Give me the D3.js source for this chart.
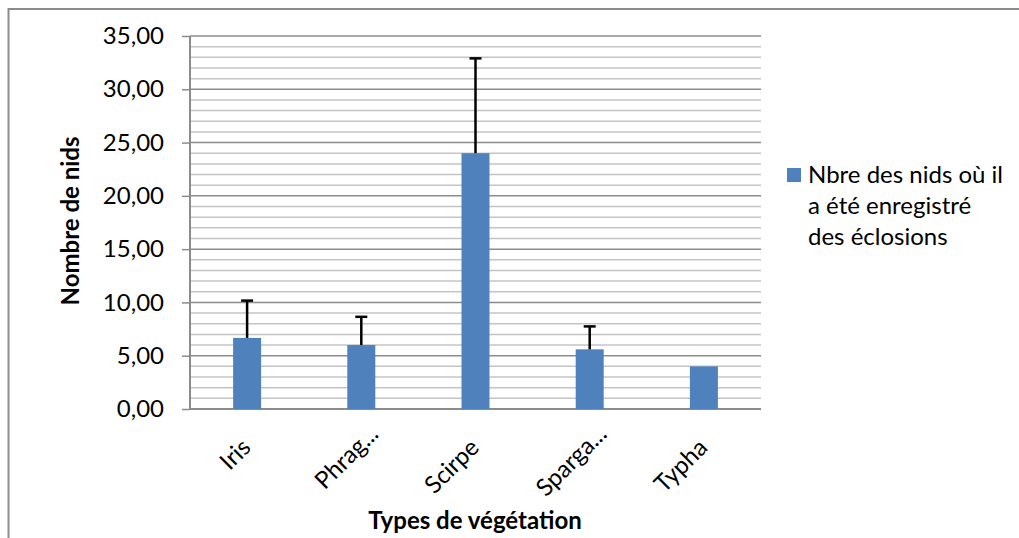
<!DOCTYPE html>
<html>
<head>
<meta charset="utf-8">
<script src="https://cdn.jsdelivr.net/npm/d3@7"></script>
<style>
  body { margin: 0; background: #fff; }
  text { font-family: Lato, "Open Sans", sans-serif; }
</style>
</head>
<body>
<div id="chart"></div>
<script>
const categories = ["Iris", "Phrag...", "Scirpe", "Sparga...", "Typha"];
const values = [6.67, 6.0, 24.0, 5.6, 4.0];
const errors = [3.5, 2.65, 8.9, 2.15, 0];
const yTicks = [0, 5, 10, 15, 20, 25, 30, 35];
const seriesName = ["Nbre des nids où il", "a été enregistré", "des éclosions"];

const width = 1019, height = 538;
const margin = ({ top: 36, right: 258, bottom: 129, left: 190 });
const fs = 24;

const svg = d3.select("#chart")
  .append("svg")
  .attr("width", width)
  .attr("height", height);

// outer chart frame (runs off the page on the right and bottom)
svg.append("rect")
  .attr("x", 8.5).attr("y", 9)
  .attr("width", 1100).attr("height", 600)
  .attr("fill", "none")
  .attr("stroke", "#8c8c8c")
  .attr("stroke-width", 2);

let x = d3.scaleBand()
  .domain(categories)
  .range([margin.left, width - margin.right]);

let y = d3.scaleLinear()
  .domain([0, 35])
  .range([height - margin.bottom, margin.top]);

// minor gridlines
svg.append("g")
  .selectAll("line")
  .data(d3.range(1, 35).filter(d => d % 5 !== 0))
  .join("line")
  .attr("x1", margin.left).attr("x2", width - margin.right)
  .attr("y1", d => y(d)).attr("y2", d => y(d))
  .attr("stroke", "#c4c4c4")
  .attr("stroke-width", 1.5);

// major gridlines
svg.append("g")
  .selectAll("line")
  .data(yTicks.slice(1))
  .join("line")
  .attr("x1", margin.left).attr("x2", width - margin.right)
  .attr("y1", d => y(d)).attr("y2", d => y(d))
  .attr("stroke", "#8c8c8c")
  .attr("stroke-width", 1.5);

// y axis
svg.append("g")
  .attr("transform", `translate(${margin.left},0)`)
  .call(d3.axisLeft(y).tickValues(yTicks).tickSize(8).tickPadding(18)
    .tickFormat(d => d3.format(".2f")(d).replace(".", ",")))
  .call(g => g.selectAll("line").attr("stroke", "#8c8c8c").attr("stroke-width", 1.5))
  .call(g => g.select(".domain").attr("stroke", "#8c8c8c").attr("stroke-width", 2).attr("d", `M0,${y(0)}V${y(35)}`))
  .call(g => g.selectAll("text").attr("font-size", fs).attr("fill", "#000"));

// x axis baseline
svg.append("line")
  .attr("x1", margin.left).attr("x2", width - margin.right)
  .attr("y1", y(0)).attr("y2", y(0))
  .attr("stroke", "#8c8c8c")
  .attr("stroke-width", 2);

const barW = 28;

svg.append("g")
  .selectAll("rect")
  .data(values)
  .join("rect")
  .attr("x", (d, i) => x(categories[i]) + x.bandwidth() / 2 - barW / 2)
  .attr("y", d => y(d))
  .attr("width", barW)
  .attr("height", d => y(0) - y(d))
  .attr("fill", "#4f81bd");

// error bars (upper only)
const eb = svg.append("g").attr("stroke", "#000").attr("stroke-width", 2.5);
values.forEach((v, i) => {
  if (!errors[i]) return;
  const cx = x(categories[i]) + x.bandwidth() / 2;
  eb.append("line")
    .attr("x1", cx).attr("x2", cx)
    .attr("y1", y(v)).attr("y2", y(v + errors[i]));
  eb.append("line")
    .attr("x1", cx - 6).attr("x2", cx + 6)
    .attr("y1", y(v + errors[i])).attr("y2", y(v + errors[i]));
});

// category labels, rotated (truncated ones stick out a bit further, like excel)
svg.append("g")
  .selectAll("text")
  .data(categories)
  .join("text")
  .attr("transform", d => `translate(${x(d) + x.bandwidth() / 2 + 5},${y(0) + 40}) rotate(-45)`)
  .attr("dx", d => d.endsWith("...") ? 19 : 0)
  .attr("text-anchor", "end")
  .attr("font-size", fs)
  .text(d => d);

// axis titles
svg.append("text")
  .attr("x", 475).attr("y", 529)
  .attr("text-anchor", "middle")
  .attr("font-size", fs)
  .attr("font-weight", "bold")
  .text("Types de végétation");

svg.append("text")
  .attr("transform", "translate(79,221) rotate(-90)")
  .attr("text-anchor", "middle")
  .attr("font-size", fs)
  .attr("font-weight", "bold")
  .text("Nombre de nids");

// legend
svg.append("rect")
  .attr("x", 787).attr("y", 168)
  .attr("width", 14).attr("height", 14)
  .attr("fill", "#4f81bd");

svg.append("g")
  .selectAll("text")
  .data(seriesName)
  .join("text")
  .attr("x", 808)
  .attr("y", (d, i) => 183 + i * 31)
  .attr("font-size", fs)
  .text(d => d);
</script>
</body>
</html>
